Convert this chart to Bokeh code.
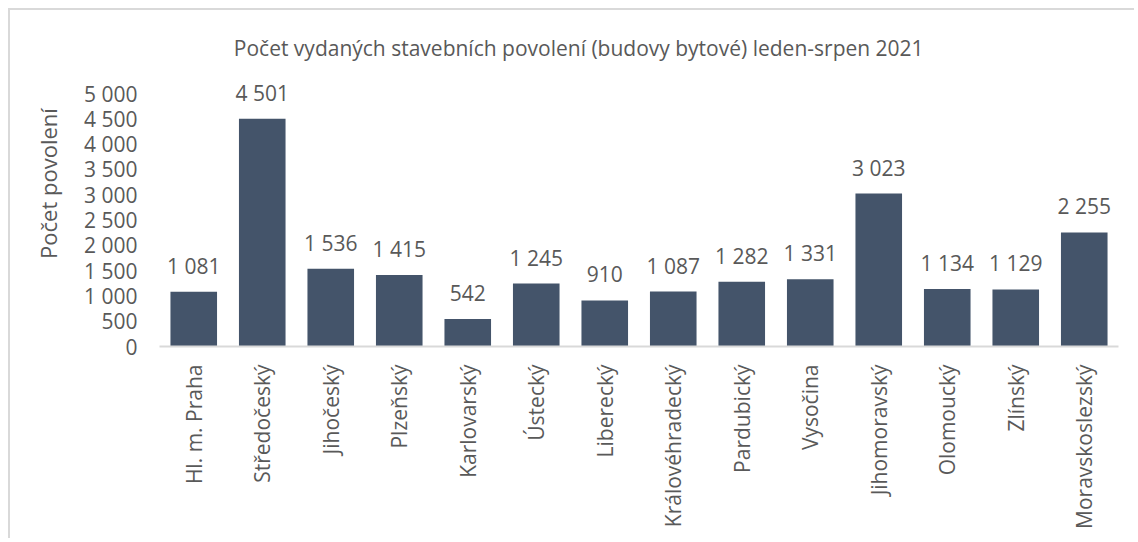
import math
from bokeh.plotting import figure
from bokeh.models import FactorRange, Range1d, FixedTicker, ColumnDataSource, LabelSet, Label
from bokeh.core.properties import value
from bokeh.embed import file_html
from bokeh.resources import INLINE

categories = ["Hl. m. Praha", "Středočeský", "Jihočeský", "Plzeňský", "Karlovarský",
              "Ústecký", "Liberecký", "Královéhradecký", "Pardubický", "Vysočina",
              "Jihomoravský", "Olomoucký", "Zlínský", "Moravskoslezský"]
values = [1081, 4501, 1536, 1415, 542, 1245, 910, 1087, 1282, 1331, 3023, 1134, 1129, 2255]
y_ticks = list(range(0, 5001, 500))
title_text = "Počet vydaných stavebních povolení (budovy bytové) leden-srpen 2021"
y_label = "Počet povolení"

def fmt(v):
    return f"{v:,}".replace(",", " ")

FONT = "Open Sans"
TXT = "#595959"
BAR = "#44546A"

src = ColumnDataSource(dict(cat=categories, val=values, lab=[fmt(v) for v in values]))

p = figure(width=1126, height=530, output_backend="svg", toolbar_location=None,
           x_range=FactorRange(factors=categories, range_padding=0),
           y_range=Range1d(0, 6443),
           min_border_left=149, min_border_right=18, min_border_top=10, min_border_bottom=194,
           margin=(8, 0, 0, 8),
           styles={"border-left": "2px solid #d9d9d9", "border-top": "2px solid #d9d9d9"})
p.outline_line_color = None
p.xgrid.grid_line_color = None
p.ygrid.grid_line_color = None

p.vbar(x="cat", top="val", width=0.68, source=src, fill_color=BAR, line_color=None)

labels = LabelSet(x="cat", y="val", text="lab", source=src, text_align="center",
                  text_baseline="alphabetic", y_offset=18, text_font=value(FONT),
                  text_font_size="21px", text_color=TXT)
p.add_layout(labels)

p.add_layout(Label(x=6.12, y=5890, text=title_text, text_align="center", text_baseline="middle",
                   text_font=FONT, text_font_size="21px", text_color=TXT))

xa = p.xaxis[0]
xa.axis_line_color = "#d9d9d9"
xa.axis_line_width = 2
xa.major_tick_line_color = None
xa.minor_tick_line_color = None
xa.major_label_orientation = math.pi / 2
xa.major_label_standoff = 12
xa.major_label_text_font = FONT
xa.major_label_text_font_size = "21px"
xa.major_label_text_color = TXT

ya = p.yaxis[0]
ya.ticker = FixedTicker(ticks=y_ticks)
ya.major_label_overrides = {t: fmt(t) for t in y_ticks}
ya.axis_line_color = None
ya.major_tick_line_color = None
ya.minor_tick_line_color = None
ya.major_label_standoff = 16
ya.major_label_text_font = FONT
ya.major_label_text_font_size = "21px"
ya.major_label_text_color = TXT
ya.axis_label = y_label
ya.axis_label_standoff = 18
ya.axis_label_text_font = FONT
ya.axis_label_text_font_size = "22px"
ya.axis_label_text_font_style = "normal"
ya.axis_label_text_color = TXT

open("out.html", "w").write(file_html(p, INLINE))
